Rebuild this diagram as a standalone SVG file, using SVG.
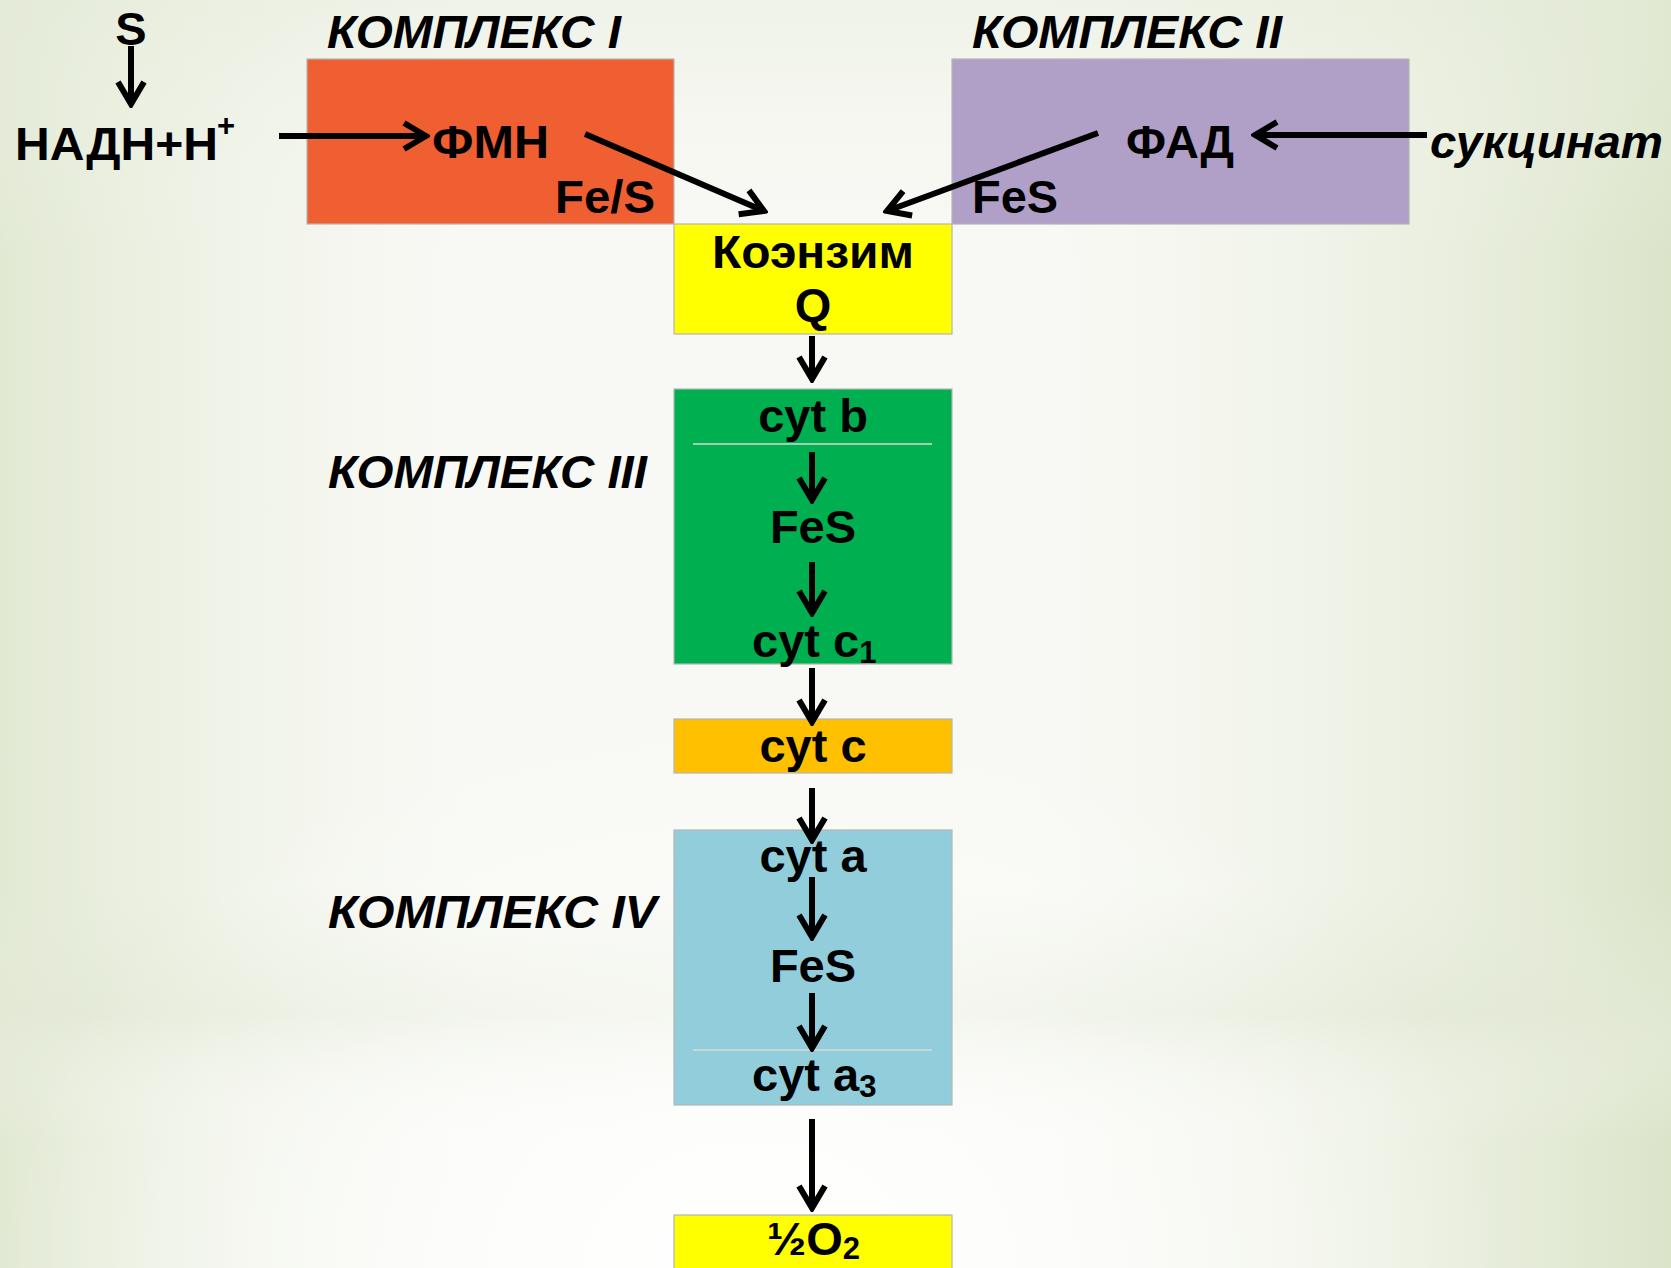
<svg xmlns="http://www.w3.org/2000/svg" width="1671" height="1268" viewBox="0 0 1671 1268">
<defs>
<linearGradient id="bgL" x1="0" y1="0" x2="1" y2="0">
<stop offset="0" stop-color="#dfe7cf" stop-opacity="0.9"/>
<stop offset="0.28" stop-color="#eef2e6" stop-opacity="0"/>
<stop offset="0.62" stop-color="#eef2e6" stop-opacity="0"/>
<stop offset="1" stop-color="#dbe4c9" stop-opacity="1"/>
</linearGradient>
<linearGradient id="bgBand" x1="0" y1="0" x2="0" y2="1">
<stop offset="0" stop-color="#e6ecdb" stop-opacity="0.5"/>
<stop offset="0.2" stop-color="#f4f6ef" stop-opacity="0"/>
<stop offset="0.7" stop-color="#e6ecdb" stop-opacity="0"/>
<stop offset="0.8" stop-color="#e3e9d6" stop-opacity="0.7"/>
<stop offset="0.9" stop-color="#f4f6ef" stop-opacity="0"/>
<stop offset="1" stop-color="#ffffff" stop-opacity="0"/>
</linearGradient>
<radialGradient id="bgW" cx="0.45" cy="1" r="0.45">
<stop offset="0" stop-color="#ffffff" stop-opacity="1"/>
<stop offset="1" stop-color="#ffffff" stop-opacity="0"/>
</radialGradient>
<marker id="ah" viewBox="-26 -16 30 32" refX="0" refY="0" markerWidth="30" markerHeight="32" markerUnits="userSpaceOnUse" orient="auto">
<path d="M -22 -13 L 0 0 L -22 13" fill="none" stroke="#000" stroke-width="6" stroke-linejoin="miter" stroke-linecap="butt"/>
</marker>
</defs>
<style>
text{font-family:"Liberation Sans",Arial,sans-serif;font-weight:bold;fill:#000;}
.t{font-size:47px;}
.c{font-size:47px;text-anchor:middle;}
.it{font-size:46px;font-style:italic;}
.sub{font-size:31px;}
.box{stroke:#b5b5b5;stroke-width:1.2;}
.div{stroke:#d8d8d8;stroke-width:1.5;}
.ar{stroke:#000;stroke-width:6;fill:none;marker-end:url(#ah);}
</style>
<rect x="0" y="0" width="1671" height="1268" fill="#f8f9f4"/>
<rect x="0" y="0" width="1671" height="1268" fill="url(#bgL)"/>
<rect x="0" y="0" width="1671" height="1268" fill="url(#bgBand)"/>
<rect x="0" y="0" width="1671" height="1268" fill="url(#bgW)"/>

<g id="label-complex1"><text class="it" x="327" y="48" textLength="294" lengthAdjust="spacingAndGlyphs">КОМПЛЕКС I</text></g>
<g id="label-complex2"><text class="it" x="972" y="48" textLength="310" lengthAdjust="spacingAndGlyphs">КОМПЛЕКС II</text></g>
<g id="label-complex3"><text class="it" x="328" y="488" textLength="319" lengthAdjust="spacingAndGlyphs">КОМПЛЕКС III</text></g>
<g id="label-complex4"><text class="it" x="328" y="928" textLength="329" lengthAdjust="spacingAndGlyphs">КОМПЛЕКС IV</text></g>

<g id="S"><text class="c" x="131" y="45">S</text></g>
<g id="nadh"><text class="t" x="15" y="160" textLength="203" lengthAdjust="spacingAndGlyphs">НАДН+Н</text><text class="sub" x="217" y="136">+</text></g>

<g id="complex1">
<rect class="box" x="307" y="59" width="367" height="165" fill="#f05f31"/>
<text class="t" x="432" y="158" textLength="117" lengthAdjust="spacingAndGlyphs">ФМН</text>
<text class="t" x="555" y="213" textLength="100" lengthAdjust="spacingAndGlyphs">Fe/S</text>
</g>

<g id="complex2">
<rect class="box" x="952" y="59" width="457" height="165" fill="#b09fc7"/>
<text class="t" x="1126" y="158" textLength="108" lengthAdjust="spacingAndGlyphs">ФАД</text>
<text class="t" x="972" y="213" textLength="86" lengthAdjust="spacingAndGlyphs">FeS</text>
</g>

<g id="succinate"><text class="it" x="1430" y="158" textLength="233" lengthAdjust="spacingAndGlyphs">сукцинат</text></g>

<g id="coq">
<rect class="box" x="674" y="224" width="278" height="110" fill="#ffff00"/>
<text class="c" x="813" y="268" textLength="202" lengthAdjust="spacingAndGlyphs">Коэнзим</text>
<text class="c" x="813" y="321">Q</text>
</g>

<g id="complex3">
<rect class="box" x="674" y="389" width="278" height="275" fill="#00b050"/>
<line class="div" x1="693" y1="444" x2="932" y2="444"/>
<text class="c" x="813" y="432">cyt b</text>
<text class="c" x="813" y="543">FeS</text>
<text class="t" x="752" y="657">cyt c<tspan class="sub" dy="6">1</tspan></text>
</g>

<g id="cytc">
<rect class="box" x="674" y="719" width="278" height="54" fill="#ffc000"/>
<text class="c" x="813" y="762">cyt c</text>
</g>

<g id="complex4">
<rect class="box" x="674" y="830" width="278" height="275" fill="#92cddc"/>
<line class="div" x1="693" y1="1050" x2="932" y2="1050"/>
<text class="c" x="813" y="872">cyt a</text>
<text class="c" x="813" y="982">FeS</text>
<text class="t" x="752" y="1091">cyt a<tspan class="sub" dy="6">3</tspan></text>
</g>

<g id="o2">
<rect class="box" x="674" y="1215" width="278" height="60" fill="#ffff00"/>
<text class="t" x="767" y="1255">½O<tspan class="sub" dy="4">2</tspan></text>
</g>

<g id="connectors">
<line class="ar" x1="131" y1="46" x2="131" y2="104"/>
<line class="ar" x1="279" y1="136" x2="426" y2="136"/>
<line class="ar" x1="585" y1="134" x2="764" y2="211"/>
<line class="ar" x1="1098" y1="133" x2="887" y2="211"/>
<line class="ar" x1="1427" y1="135" x2="1255" y2="135"/>
<line class="ar" x1="812" y1="336" x2="812" y2="379"/>
<line class="ar" x1="812" y1="452" x2="812" y2="500"/>
<line class="ar" x1="812" y1="562" x2="812" y2="613"/>
<line class="ar" x1="812" y1="668" x2="812" y2="722"/>
<line class="ar" x1="812" y1="788" x2="812" y2="840"/>
<line class="ar" x1="812" y1="877" x2="812" y2="937"/>
<line class="ar" x1="812" y1="993" x2="812" y2="1048"/>
<line class="ar" x1="812" y1="1119" x2="812" y2="1208"/>
</g>
</svg>
